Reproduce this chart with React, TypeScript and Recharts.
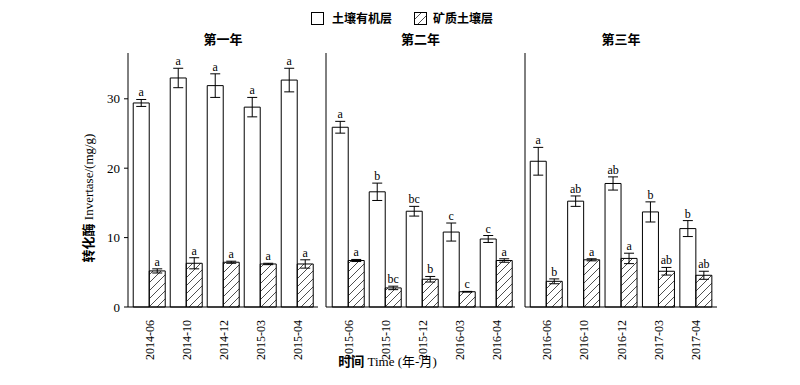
import React from 'react'
import { BarChart, Bar, XAxis, YAxis, ErrorBar, LabelList, Legend } from 'recharts'

const FONT = "'Liberation Serif', 'Times New Roman', 'Noto Sans CJK SC', serif"

const months1 = ['2014-06', '2014-10', '2014-12', '2015-03', '2015-04']
const months2 = ['2015-06', '2015-10', '2015-12', '2016-03', '2016-04']
const months3 = ['2016-06', '2016-10', '2016-12', '2017-03', '2017-04']

const organic1 = [29.4, 33.0, 31.9, 28.8, 32.7]
const organicErr1 = [0.5, 1.4, 1.7, 1.4, 1.7]
const organicSig1 = ['a', 'a', 'a', 'a', 'a']
const mineral1 = [5.2, 6.3, 6.45, 6.2, 6.2]
const mineralErr1 = [0.3, 0.8, 0.15, 0.1, 0.6]
const mineralSig1 = ['a', 'a', 'a', 'a', 'a']

const organic2 = [25.9, 16.6, 13.8, 10.8, 9.8]
const organicErr2 = [0.85, 1.25, 0.7, 1.3, 0.5]
const organicSig2 = ['a', 'b', 'bc', 'c', 'c']
const mineral2 = [6.7, 2.75, 4.0, 2.2, 6.7]
const mineralErr2 = [0.15, 0.25, 0.4, 0.05, 0.25]
const mineralSig2 = ['a', 'bc', 'b', 'c', 'a']

const organic3 = [21.0, 15.25, 17.8, 13.7, 11.3]
const organicErr3 = [2.0, 0.75, 0.95, 1.45, 1.15]
const organicSig3 = ['a', 'ab', 'ab', 'b', 'b']
const mineral3 = [3.7, 6.8, 7.0, 5.15, 4.57]
const mineralErr3 = [0.35, 0.15, 0.75, 0.55, 0.58]
const mineralSig3 = ['b', 'a', 'a', 'ab', 'ab']

const yTicks = [0, 10, 20, 30]

interface Row {
    month: string;
    organic: number;
    organicErr: number;
    organicSig: string;
    mineral: number;
    mineralErr: number;
    mineralSig: string;
}

const buildRows = (months: string[], org: number[], orgErr: number[], orgSig: string[], min: number[], minErr: number[], minSig: string[]): Row[] =>
    months.map((m, i) => ({
        month: m,
        organic: org[i],
        organicErr: orgErr[i],
        organicSig: orgSig[i],
        mineral: min[i],
        mineralErr: minErr[i],
        mineralSig: minSig[i],
    }))

const rows1 = buildRows(months1, organic1, organicErr1, organicSig1, mineral1, mineralErr1, mineralSig1)
const rows2 = buildRows(months2, organic2, organicErr2, organicSig2, mineral2, mineralErr2, mineralSig2)
const rows3 = buildRows(months3, organic3, organicErr3, organicSig3, mineral3, mineralErr3, mineralSig3)

const HatchDef = ({ id }: { id: string }) => (
    <pattern id={id} patternUnits="userSpaceOnUse" width={8} height={8}>
        <path d="M-2,2 L2,-2 M0,8 L8,0 M6,10 L10,6" stroke="#222" strokeWidth={0.8} />
    </pattern>
)

// letter above the error bar cap
const sigLabel = (rows: Row[], valKey: 'organic' | 'mineral', errKey: 'organicErr' | 'mineralErr') => (props: any) => {
    const { x, y, width, height, index, value } = props
    const row = rows[index]
    if (!row) return null
    const perUnit = Number(height) / row[valKey]
    const top = Number(y) - row[errKey] * perUnit
    return (
        <text x={Number(x) + Number(width) / 2} y={top - 3} textAnchor="middle" fontSize={12} fontFamily={FONT} fill="#000">
            {value}
        </text>
    )
}

const MonthTick = (props: any) => {
    const { x, y, payload } = props
    const ty = y + 5
    return (
        <text x={x} y={ty} dy="0.35em" transform={`rotate(-90, ${x}, ${ty})`} textAnchor="end" fontSize={12} fontFamily={FONT} fill="#000">
            {payload.value}
        </text>
    )
}

const LegendBox = () => (
    <div style={{ display: 'flex', alignItems: 'center', fontFamily: FONT, fontSize: 12, fontWeight: 'bold', color: '#000', whiteSpace: 'nowrap' }}>
        <svg width={13} height={13} style={{ marginRight: 8 }}>
            <rect x={0.5} y={0.5} width={12} height={12} fill="#fff" stroke="#000" />
        </svg>
        <span style={{ marginRight: 22 }}>土壤有机层</span>
        <svg width={13} height={13} style={{ marginRight: 6 }}>
            <defs><HatchDef id="hatchLegend" /></defs>
            <rect x={0.5} y={0.5} width={12} height={12} fill="url(#hatchLegend)" stroke="#000" />
        </svg>
        <span>矿质土壤层</span>
    </div>
)

interface PanelProps {
    rows: Row[];
    title: string;
    left: number;
    width: number;
    marginLeft: number;
    yWidth: number;
    first?: boolean;
    withXTitle?: boolean;
    hatchId: string;
    padLeft: number;
    padRight: number;
}

const Panel = ({ rows, title, left, width, marginLeft, yWidth, first, withXTitle, hatchId, padLeft, padRight }: PanelProps) => (
    <div style={{ position: 'absolute', left, top: 0 }}>
        <BarChart
            width={width}
            height={385}
            data={rows}
            margin={{ top: 52, right: 0, bottom: 18, left: marginLeft }}
            barCategoryGap="6%"
            barGap={0}
        >
            <defs><HatchDef id={hatchId} /></defs>
            <XAxis
                xAxisId="top"
                orientation="top"
                dataKey="month"
                height={1}
                axisLine={false}
                tickLine={false}
                tick={false}
                label={{
                    content: (p: any) => {
                        const vb = p.viewBox
                        return (
                            <text x={vb.x + vb.width / 2} y={vb.y - 8} textAnchor="middle" fontSize={13} fontWeight="bold" fontFamily={FONT} fill="#000">
                                {title}
                            </text>
                        )
                    },
                }}
            />
            <XAxis
                dataKey="month"
                interval={0}
                height={60}
                tickLine={false}
                axisLine={{ stroke: '#000', strokeWidth: 1 }}
                tick={<MonthTick />}
                padding={{ left: padLeft, right: padRight }}
                label={withXTitle ? {
                    content: (p: any) => {
                        const vb = p.viewBox
                        return (
                            <text x={vb.x + vb.width / 2 - 33} y={vb.y + 59} textAnchor="middle" fontSize={13} fontFamily={FONT} fill="#000">
                                <tspan fontWeight="bold">时间</tspan> Time (<tspan>年-月</tspan>)
                            </text>
                        )
                    },
                } : undefined}
            />
            <YAxis
                domain={[0, 36.6]}
                ticks={yTicks}
                width={yWidth}
                axisLine={{ stroke: '#000', strokeWidth: 1 }}
                tickLine={first ? { stroke: '#000' } : false}
                tickSize={4}
                tickMargin={4}
                tick={first ? { fill: '#000', fontSize: 13, fontFamily: FONT } : false}
                label={first ? {
                    content: (p: any) => {
                        const vb = p.viewBox
                        const lx = vb.x + 4.5
                        const ly = vb.y + vb.height / 2 + 18
                        return (
                            <text x={lx} y={ly} transform={`rotate(-90, ${lx}, ${ly})`} textAnchor="middle" fontSize={13} fontFamily={FONT} fill="#000">
                                <tspan fontWeight="bold">转化酶</tspan> Invertase/(mg/g)
                            </text>
                        )
                    },
                } : undefined}
            />
            {first && (
                <Legend
                    layout="horizontal"
                    verticalAlign="middle"
                    align="center"
                    content={() => <LegendBox />}
                    wrapperStyle={{ top: 9, left: 311, width: 'auto' }}
                />
            )}
            <Bar dataKey="organic" fill="#fff" stroke="#000" strokeWidth={1} isAnimationActive={false}>
                <ErrorBar dataKey="organicErr" width={5} stroke="#000" strokeWidth={1} isAnimationActive={false} />
                <LabelList dataKey="organicSig" content={sigLabel(rows, 'organic', 'organicErr')} />
            </Bar>
            <Bar dataKey="mineral" fill={`url(#${hatchId})`} stroke="#000" strokeWidth={1} isAnimationActive={false}>
                <ErrorBar dataKey="mineralErr" width={5} stroke="#000" strokeWidth={1} isAnimationActive={false} />
                <LabelList dataKey="mineralSig" content={sigLabel(rows, 'mineral', 'mineralErr')} />
            </Bar>
        </BarChart>
    </div>
)

const App = () => (
    <div style={{ position: 'absolute', left: 0, top: 0, width: 800, height: 385, background: '#fff' }}>
        <Panel rows={rows1} title="第一年" left={0} width={318} marginLeft={88} yWidth={40} first hatchId="hatch1" padLeft={3} padRight={2} />
        <Panel rows={rows2} title="第二年" left={316} width={199} marginLeft={0} yWidth={10} withXTitle hatchId="hatch2" padLeft={4} padRight={0} />
        <Panel rows={rows3} title="第三年" left={515} width={202} marginLeft={0} yWidth={10} hatchId="hatch3" padLeft={3} padRight={2} />
    </div>
)

export default App
